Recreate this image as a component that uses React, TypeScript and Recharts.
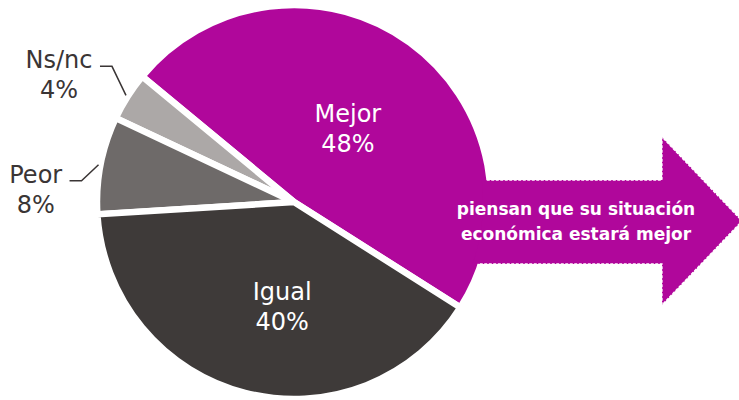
import React from 'react';
import { PieChart, Pie, Cell } from 'recharts';

const names = ['Mejor', 'Ns/nc', 'Peor', 'Igual'];
const values = [48, 4, 8, 40];
const colors = ['#b0079b', '#aca8a7', '#6e6a69', '#3e3a39'];
const calloutLines = ['piensan que su situación', 'económica estará mejor'];

const data = names.map((name, i) => ({ name, value: values[i] }));

const W = 739;
const H = 400;
const CX = 294;
const CY = 202;
const R = 197;
const START = -32.4;
const FONT = '"DejaVu Sans", Verdana, sans-serif';
const TEXT_DARK = '#3a3535';
const RAD = Math.PI / 180;

// small manual tweaks so the labels sit where the original put them
const insideNudge: Record<string, [number, number]> = { Mejor: [0, 0], Igual: [11, 15] };
const elbowOffset: Record<string, [number, number]> = { 'Ns/nc': [-14, -29], Peor: [-17, 16] };

const polar = (r: number, angle: number) => ({
  x: CX + r * Math.cos(-angle * RAD),
  y: CY + r * Math.sin(-angle * RAD),
});

const renderLabel = (props: any) => {
  const { midAngle, name, value } = props;
  if (insideNudge[name]) {
    const p = polar(R * 0.465, midAngle);
    const [dx, dy] = insideNudge[name];
    const x = p.x + dx;
    const y = p.y + dy;
    return (
      <text x={x} y={y} textAnchor="middle" fill="#fff" fontFamily={FONT} fontSize={24}>
        <tspan x={x} y={y - 6}>{name}</tspan>
        <tspan x={x} y={y + 24}>{`${value}%`}</tspan>
      </text>
    );
  }
  const s = polar(R + 2, midAngle);
  const [ox, oy] = elbowOffset[name] || [-15, 0];
  const ex = s.x + ox;
  const ey = s.y + oy;
  const endX = ex - 12;
  const tx = endX - 5 - (name.length * 0.6 * 24) / 2;
  return (
    <g>
      <polyline points={`${s.x},${s.y} ${ex},${ey} ${endX},${ey}`} fill="none" stroke={TEXT_DARK} strokeWidth={1.5} />
      <text textAnchor="middle" fill={TEXT_DARK} fontFamily={FONT} fontSize={24}>
        <tspan x={tx} y={ey + 2}>{name}</tspan>
        <tspan x={tx} y={ey + 32}>{`${value}%`}</tspan>
      </text>
    </g>
  );
};

const Callout = () => {
  const top = 180;
  const bottom = 264;
  const neck = 662;
  const headTop = 137;
  const headBottom = 305;
  const tip = 742;
  const tipY = 221;
  const inner = R - 8;
  const xAt = (r: number, y: number) => CX + Math.sqrt(r * r - (y - CY) * (y - CY));
  const fillPath =
    `M${xAt(inner, top)},${top} L${neck},${top} L${neck},${headTop} L${tip},${tipY} ` +
    `L${neck},${headBottom} L${neck},${bottom} L${xAt(inner, bottom)},${bottom} ` +
    `A${inner},${inner} 0 0 0 ${xAt(inner, top)},${top} Z`;
  const edge =
    `${xAt(R - 3, top)},${top} ${neck},${top} ${neck},${headTop} ${tip},${tipY} ` +
    `${neck},${headBottom} ${neck},${bottom} ${xAt(R - 3, bottom)},${bottom}`;
  return (
    <svg width={W} height={H} style={{ position: 'absolute', left: 0, top: 0, pointerEvents: 'none' }}>
      <path d={fillPath} fill={colors[0]} />
      <polyline points={edge} fill="none" stroke="#fff" strokeWidth={1.3} strokeDasharray="3 1.5" />
      <text textAnchor="middle" fill="#fff" fontFamily={FONT} fontSize={17} fontWeight="bold">
        <tspan x={576} y={215}>{calloutLines[0]}</tspan>
        <tspan x={576} y={240}>{calloutLines[1]}</tspan>
      </text>
    </svg>
  );
};

export default function App() {
  return (
    <div style={{ position: 'absolute', left: 0, top: 0, width: W, height: H, background: '#fff' }}>
      <PieChart width={W} height={H} margin={{ top: 0, right: 0, bottom: 0, left: 0 }}>
        <Pie
          data={data}
          dataKey="value"
          nameKey="name"
          cx={CX}
          cy={CY}
          outerRadius={R}
          startAngle={START}
          endAngle={START + 360}
          stroke="#fff"
          strokeWidth={6.5}
          label={renderLabel}
          labelLine={false}
          isAnimationActive={false}
        >
          {data.map((d, i) => (
            <Cell key={d.name} fill={colors[i]} />
          ))}
        </Pie>
      </PieChart>
      <Callout />
    </div>
  );
}
